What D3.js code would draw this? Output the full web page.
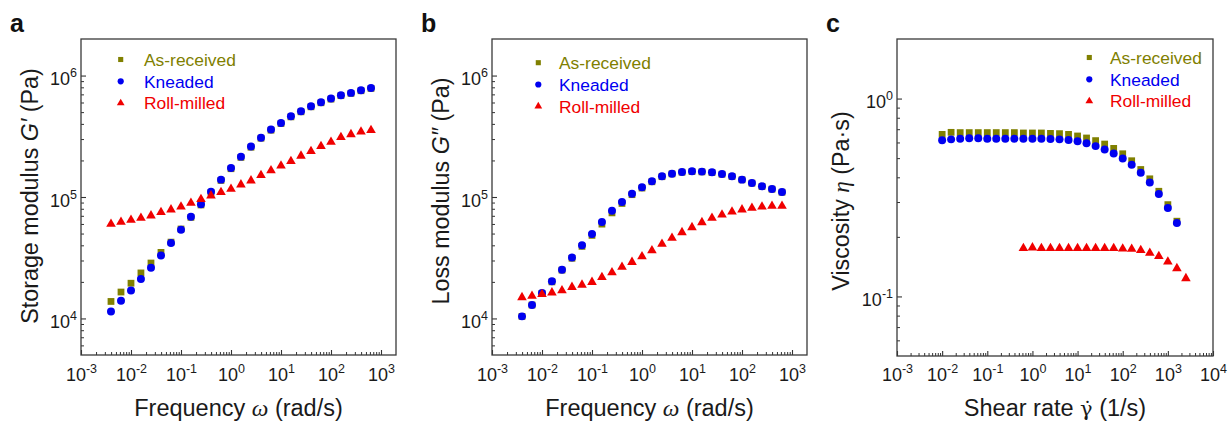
<!DOCTYPE html>
<html>
<head>
<meta charset="utf-8">
<script src="https://cdn.jsdelivr.net/npm/d3@7"></script>
<style>
  body { margin: 0; background: #fff; }
  svg { display: block; font-family: "Liberation Sans", Arial, sans-serif; }
</style>
</head>
<body>
<div id="chart"></div>
<script>
// frequency sweep (rad/s), panels a and b
var freq = [0.00398, 0.00631, 0.01, 0.0158, 0.0251, 0.0398, 0.0631, 0.1, 0.158, 0.251, 0.398, 0.631, 1, 1.58, 2.51, 3.98, 6.31, 10, 15.8, 25.1, 39.8, 63.1, 100, 158, 251, 398, 631];

// a: storage modulus G' (Pa)
var gpAsReceived = [13800, 16500, 19500, 23700, 28600, 35000, 42500, 54500, 68000, 86000, 109000, 137000, 171000, 212000, 257000, 305000, 355000, 403000, 457000, 503000, 553000, 597000, 640000, 683000, 714000, 750000, 784000];
var gpKneaded = [11400, 14000, 17000, 21100, 26200, 33000, 41800, 53800, 68800, 87000, 110600, 139000, 173000, 215000, 260000, 308000, 359000, 407000, 462000, 508000, 559000, 603000, 646000, 689000, 720000, 757000, 791000];
var gpRollMilled = [59900, 62200, 64600, 67100, 70200, 74800, 78700, 83200, 89300, 95800, 102600, 109300, 116400, 126400, 136400, 151000, 165000, 181000, 197000, 218000, 238000, 262000, 284000, 310000, 328000, 345000, 354000];

// b: loss modulus G'' (Pa)
var gppAsReceived = [10400, 12900, 16100, 20000, 25000, 31300, 39200, 48300, 59800, 74000, 88500, 104500, 118500, 133500, 147000, 155000, 160000, 162000, 161000, 159000, 154000, 147500, 138500, 130000, 122000, 116000, 109500];
var gppKneaded = [10400, 12900, 16200, 20200, 25200, 31800, 40000, 49600, 62200, 77100, 90900, 106500, 120200, 134700, 148000, 155600, 160600, 162800, 161800, 159700, 154800, 148000, 139000, 130400, 122400, 116400, 109900];
var gppRollMilled = [14900, 15300, 15800, 16300, 17000, 18100, 18900, 19900, 21800, 23900, 26500, 29100, 32400, 36300, 41000, 45900, 51100, 56200, 61800, 67100, 71500, 75700, 78700, 81100, 83200, 84300, 84300];

// c: viscosity (Pa·s) vs shear rate (1/s)
var shear = [0.01, 0.0158, 0.0251, 0.0398, 0.0631, 0.1, 0.158, 0.251, 0.398, 0.631, 1, 1.58, 2.51, 3.98, 6.31, 10, 15.8, 25.1, 39.8, 63.1, 100, 158, 251, 398, 631, 1000, 1585];
var shearRoll = [0.631, 1, 1.58, 2.51, 3.98, 6.31, 10, 15.8, 25.1, 39.8, 63.1, 100, 158, 251, 398, 631, 1000, 1585, 2512];
var etaAsReceived = [0.659, 0.675, 0.673, 0.673, 0.673, 0.673, 0.673, 0.673, 0.673, 0.670, 0.670, 0.670, 0.667, 0.665, 0.659, 0.647, 0.632, 0.613, 0.589, 0.560, 0.526, 0.485, 0.438, 0.393, 0.340, 0.291, 0.240];
var etaKneaded = [0.615, 0.622, 0.627, 0.630, 0.630, 0.627, 0.627, 0.627, 0.627, 0.627, 0.627, 0.627, 0.625, 0.622, 0.617, 0.608, 0.594, 0.575, 0.553, 0.528, 0.498, 0.463, 0.422, 0.377, 0.329, 0.280, 0.235];
var etaRollMilled = [0.175, 0.1764, 0.175, 0.175, 0.175, 0.175, 0.175, 0.175, 0.175, 0.175, 0.175, 0.1743, 0.1737, 0.1710, 0.1658, 0.1595, 0.1498, 0.1386, 0.1234];

var seriesNames = ["As-received", "Kneaded", "Roll-milled"];
var seriesColors = ["#808000", "#0000f0", "#f00000"];
var seriesSymbols = [d3.symbolSquare, d3.symbolCircle, d3.symbolTriangle];
var markerSize = [46, 50, 40];
var legendSize = [26, 30, 26];

var xTicksAB = [1e-3, 1e-2, 1e-1, 1, 10, 100, 1000];
var xTicksC = [1e-3, 1e-2, 1e-1, 1, 10, 100, 1000, 10000];
var yTicksAB = [1e4, 1e5, 1e6];
var yTicksC = [0.1, 1];

var W = 1231, H = 424;
var svg = d3.select("#chart").append("svg")
    .attr("width", W)
    .attr("height", H);

var panels = [
  { tag: "a", left: 81, top: 39, w: 315, h: 316,
    xDomain: [1e-3, 1995], yDomain: [5000, 2e6], xTicks: xTicksAB, yTicks: yTicksAB,
    series: [[freq, gpAsReceived], [freq, gpKneaded], [freq, gpRollMilled]],
    legend: [120.7, 59.5, 144], yTitleX: 37.5, yTitleY: 196,
    yTitle: ["Storage modulus ", "G\u2032", " (Pa)"], xTitle: "freq" },
  { tag: "b", left: 492, top: 39, w: 315, h: 316,
    xDomain: [1e-3, 1995], yDomain: [5000, 2e6], xTicks: xTicksAB, yTicks: yTicksAB,
    series: [[freq, gppAsReceived], [freq, gppKneaded], [freq, gppRollMilled]],
    legend: [538.3, 62.7, 559], yTitleX: 448.5, yTitleY: 191,
    yTitle: ["Loss modulus ", "G\u2033", " (Pa)"], xTitle: "freq" },
  { tag: "c", left: 897, top: 39, w: 316, h: 317,
    xDomain: [1e-3, 1e4], yDomain: [0.05, 2], xTicks: xTicksC, yTicks: yTicksC,
    series: [[shear, etaAsReceived], [shear, etaKneaded], [shearRoll, etaRollMilled]],
    legend: [1089.3, 57.5, 1110], yTitleX: 848.5, yTitleY: 201,
    yTitle: null, xTitle: "shear" }
];

function minorTicks(domain) {
  var out = [];
  var lo = Math.floor(Math.log10(domain[0])), hi = Math.ceil(Math.log10(domain[1]));
  for (var e = lo; e < hi; e++) {
    for (var m = 2; m <= 9; m++) {
      var v = m * Math.pow(10, e);
      if (v > domain[0] * 1.0001 && v < domain[1] * 0.9999) out.push(v);
    }
  }
  return out;
}

function powLabel(sel) {
  sel.each(function(d) {
    var t = d3.select(this);
    var e = Math.round(Math.log10(d));
    t.text(null);
    t.append("tspan").text("10");
    t.append("tspan").attr("dy", -8).style("font-size", "12.5px").text(e < 0 ? "-" + (-e) : e);
  });
}

panels.forEach(function(p) {
  var x = d3.scaleLog().domain(p.xDomain).range([0, p.w]);
  var y = d3.scaleLog().domain(p.yDomain).range([p.h, 0]);

  var g = svg.append("g").attr("transform", "translate(" + p.left + "," + p.top + ")");

  // minor ticks
  g.append("g")
    .attr("transform", "translate(0," + p.h + ")")
    .call(d3.axisBottom(x).tickValues(minorTicks(p.xDomain)).tickSize(-3).tickFormat(""))
    .call(function(s) { s.select(".domain").remove(); s.selectAll("line").attr("stroke", "#333"); });
  g.append("g")
    .call(d3.axisLeft(y).tickValues(minorTicks(p.yDomain)).tickSize(-3).tickFormat(""))
    .call(function(s) { s.select(".domain").remove(); s.selectAll("line").attr("stroke", "#333"); });

  // major ticks + labels
  var xa = g.append("g")
    .attr("transform", "translate(0," + p.h + ")")
    .call(d3.axisBottom(x).tickValues(p.xTicks).tickSize(-5).tickPadding(0).tickFormat(function(d) { return d; }));
  xa.select(".domain").remove();
  xa.selectAll("line").attr("stroke", "#333").attr("stroke-width", 1.1);
  xa.selectAll("text")
    .attr("dy", null).attr("y", p.tag === "c" ? 24.5 : 26)
    .attr("fill", "#1a1a1a")
    .style("font-size", "18px").style("font-family", "Liberation Sans, Arial, sans-serif")
    .call(powLabel);

  var ya = g.append("g")
    .call(d3.axisLeft(y).tickValues(p.yTicks).tickSize(-5).tickPadding(0).tickFormat(function(d) { return d; }));
  ya.select(".domain").remove();
  ya.selectAll("line").attr("stroke", "#333").attr("stroke-width", 1.1);
  ya.selectAll("text")
    .attr("dy", null).attr("x", -4).attr("y", 9)
    .attr("text-anchor", "end")
    .attr("fill", "#1a1a1a")
    .style("font-size", "18px").style("font-family", "Liberation Sans, Arial, sans-serif")
    .call(powLabel);

  // data points
  p.series.forEach(function(s, i) {
    var pts = s[0].map(function(v, k) { return [v, s[1][k]]; });
    g.append("g").selectAll("path")
      .data(pts)
      .enter().append("path")
      .attr("transform", function(d) { return "translate(" + x(d[0]) + "," + y(d[1]) + ")"; })
      .attr("d", d3.symbol().type(seriesSymbols[i]).size(markerSize[i]))
      .attr("fill", seriesColors[i]);
  });

  // frame
  g.append("rect")
    .attr("width", p.w).attr("height", p.h)
    .attr("fill", "none").attr("stroke", "#3a3a3a").attr("stroke-width", 1.3);

  // legend
  seriesNames.forEach(function(name, i) {
    var ly = p.legend[1] + i * 21.8;
    svg.append("path")
      .attr("transform", "translate(" + p.legend[0] + "," + ly + ")")
      .attr("d", d3.symbol().type(seriesSymbols[i]).size(legendSize[i]))
      .attr("fill", seriesColors[i]);
    svg.append("text")
      .attr("x", p.legend[2]).attr("y", ly + 6.2)
      .attr("fill", seriesColors[i])
      .style("font-size", "17.4px")
      .text(name);
  });

  // panel tag
  svg.append("text")
    .attr("x", p.left - 71).attr("y", 32)
    .style("font-size", "25px").style("font-weight", "bold")
    .attr("fill", "#111")
    .text(p.tag);

  // x title
  var xt = svg.append("text")
    .attr("x", p.left + p.w / 2).attr("y", 416)
    .attr("text-anchor", "middle")
    .attr("fill", "#1a1a1a")
    .style("font-size", "23.5px");
  if (p.xTitle === "freq") {
    xt.append("tspan").text("Frequency ");
    xt.append("tspan").style("font-family", "Liberation Serif, serif").style("font-style", "italic").text("\u03C9");
    xt.append("tspan").text(" (rad/s)");
  } else {
    xt.append("tspan").text("Shear rate ");
    xt.append("tspan").style("font-family", "DejaVu Serif, serif").style("font-size", "21px").text("\u03B3\u0307");
    xt.append("tspan").text(" (1/s)");
  }

  // y title
  var yt = svg.append("text")
    .attr("transform", "translate(" + p.yTitleX + "," + p.yTitleY + ") rotate(-90)")
    .attr("text-anchor", "middle")
    .attr("fill", "#1a1a1a")
    .style("font-size", "23.3px");
  if (p.yTitle) {
    yt.append("tspan").text(p.yTitle[0]);
    yt.append("tspan").style("font-style", "italic").text(p.yTitle[1]);
    yt.append("tspan").text(p.yTitle[2]);
  } else {
    yt.append("tspan").text("Viscosity ");
    yt.append("tspan").style("font-family", "Liberation Serif, serif").style("font-style", "italic").text("\u03B7");
    yt.append("tspan").text(" (Pa\u00B7s)");
  }
});
</script>
</body>
</html>
